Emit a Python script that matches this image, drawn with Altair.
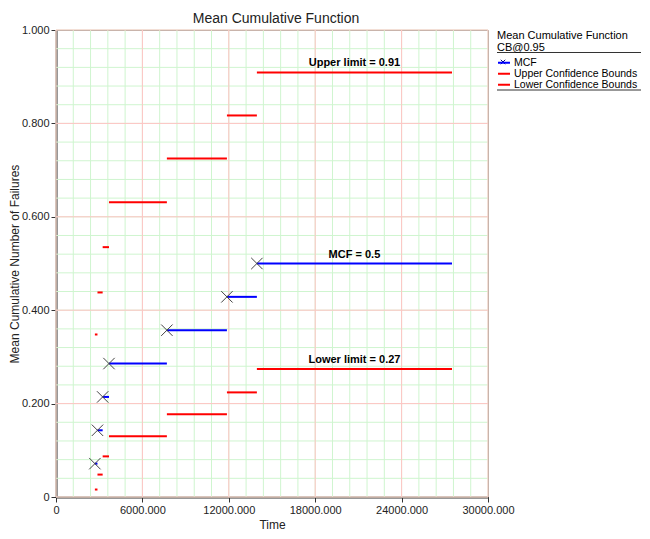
import altair as alt
import pandas as pd

FONT = "Liberation Sans"

# ---- data ----
times = [2700, 2880, 3240, 3680, 7700, 11870, 13950]
end_time = 27500
mcf = [1 / 14, 2 / 14, 3 / 14, 4 / 14, 5 / 14, 6 / 14, 7 / 14]
upper = [0.348, 0.438, 0.535, 0.631, 0.725, 0.817, 0.909]
lower = [0.016, 0.048, 0.087, 0.130, 0.177, 0.224, 0.274]

series_names = ["MCF", "Upper Confidence Bounds", "Lower Confidence Bounds"]
series_colors = ["#0000ff", "#ff0000", "#ff0000"]

x_major = [0, 6000, 12000, 18000, 24000, 30000]
x_minor = [0, 1200, 2400, 3600, 4800, 6000, 7200, 8400, 9600, 10800, 12000,
           13200, 14400, 15600, 16800, 18000, 19200, 20400, 21600, 22800,
           24000, 25200, 26400, 27600, 28800, 30000]
y_major = [0, 0.2, 0.4, 0.6, 0.8, 1.0]
y_minor = [0, 0.04, 0.08, 0.12, 0.16, 0.2, 0.24, 0.28, 0.32, 0.36, 0.4,
           0.44, 0.48, 0.52, 0.56, 0.6, 0.64, 0.68, 0.72, 0.76, 0.8, 0.84,
           0.88, 0.92, 0.96, 1.0]

annot_labels = ["Upper limit = 0.91", "MCF = 0.5", "Lower limit = 0.27"]

# ---- tables built from the arrays ----
ends = times[1:] + [end_time]
rows = []
for name, vals in zip(series_names, [mcf, upper, lower]):
    for s, e, v in zip(times, ends, vals):
        rows.append({"series": name, "t0": s, "t1": e, "v": v})
seg = pd.DataFrame(rows)
pts = pd.DataFrame({"t0": times, "v": mcf})
ann = pd.DataFrame({
    "t0": [(times[-1] + end_time) / 2] * 3,
    "v": [upper[-1], mcf[-1], lower[-1]],
    "label": annot_labels,
})

xs = alt.Scale(domain=[0, 30000], nice=False, zero=False)
ys = alt.Scale(domain=[0, 1], nice=False, zero=False)

label_expr = "datum.value == 0 ? '0' : format(datum.value, '.3f')"
AX = alt.Axis(values=x_major, labelExpr=label_expr, grid=False, title="Time",
              labelFlush=False, labelOverlap=False, tickSize=5, labelPadding=2,
              titlePadding=4)
AY = alt.Axis(values=y_major, labelExpr=label_expr, grid=False,
              title="Mean Cumulative Number of Failures", labelFlush=False,
              labelOverlap=False, tickSize=5, labelPadding=2, titlePadding=0)

X = lambda f: alt.X(f, scale=xs, axis=AX)
Y = lambda f: alt.Y(f, scale=ys, axis=AY)

GREEN = "#cff5cf"
PINK = "#ffc4c4"

gx_minor = alt.Chart(pd.DataFrame({"t0": x_minor})).mark_rule(
    color=GREEN, strokeWidth=1).encode(x=X("t0:Q"))
gy_minor = alt.Chart(pd.DataFrame({"v": y_minor})).mark_rule(
    color=GREEN, strokeWidth=1).encode(y=Y("v:Q"))
gx_major = alt.Chart(pd.DataFrame({"t0": x_major})).mark_rule(
    color=PINK, strokeWidth=1).encode(x=X("t0:Q"))
gy_major = alt.Chart(pd.DataFrame({"v": y_major})).mark_rule(
    color=PINK, strokeWidth=1).encode(y=Y("v:Q"))

segments = alt.Chart(seg).mark_rule(strokeWidth=2, strokeCap="butt").encode(
    x=X("t0:Q"),
    x2="t1:Q",
    y=Y("v:Q"),
    color=alt.Color("series:N", scale=alt.Scale(domain=series_names, range=series_colors),
                    legend=alt.Legend(
                        title=["Mean Cumulative Function", "CB@0.95"],
                        orient="none", legendX=441, legendY=0,
                        titleFontSize=11, titleFontWeight="normal", titleFont=FONT,
                        titleColor="#000", titleLineHeight=11.5, titlePadding=5,
                        labelFontSize=10.5, labelFont=FONT, labelColor="#000",
                        symbolType="stroke", symbolStrokeWidth=2, symbolSize=144,
                        clipHeight=10.5, rowPadding=0, labelOffset=3, padding=0,
                        titleAlign="left")),
)

XPATH = "M-1,-1L1,1M1,-1L-1,1"
markers = alt.Chart(pts).mark_point(
    shape=XPATH, size=130, stroke="#444", strokeWidth=1, filled=False, opacity=1
).encode(x=X("t0:Q"), y=Y("v:Q"))

annots = alt.Chart(ann).mark_text(
    font=FONT, fontSize=11, fontWeight="bold", color="#000", dy=-9, align="center",
    baseline="middle"
).encode(x=X("t0:Q"), y=Y("v:Q"), text="label:N")

dec = pd.DataFrame({"k": [0]})
under1 = alt.Chart(dec).mark_rule(color="#333", strokeWidth=1).encode(
    x=alt.value(441), x2=alt.value(585), y=alt.value(22.5))
under2 = alt.Chart(dec).mark_rule(color="#333", strokeWidth=1).encode(
    x=alt.value(441), x2=alt.value(585), y=alt.value(60))
legend_x = alt.Chart(dec).mark_point(
    shape=XPATH, size=20, stroke="#000080", strokeWidth=1, filled=False, opacity=1
).encode(x=alt.value(447), y=alt.value(32))

chart = alt.layer(
    gx_minor, gy_minor, gx_major, gy_major, segments, markers, annots,
    under1, under2, legend_x
).properties(
    width=432, height=467,
    padding={"left": 48, "top": 22, "right": 154, "bottom": 34},
    autosize=alt.AutoSizeParams(type="none"),
    background="white",
    title=alt.TitleParams("Mean Cumulative Function", fontSize=14, fontWeight="normal",
                          font=FONT, color="#222", offset=2, dx=4, dy=4, anchor="middle",
                          frame="group"),
).configure_view(
    stroke="#555", strokeWidth=1
).configure_axis(
    labelFont=FONT, labelFontSize=11, labelColor="#222", titleFont=FONT,
    titleFontSize=12, titleFontWeight="normal", titleColor="#222",
    domainColor="#333", domainWidth=2, tickColor="#333", tickWidth=1,
)

chart.save("out.html", embed_options={"renderer": "svg", "actions": False})
